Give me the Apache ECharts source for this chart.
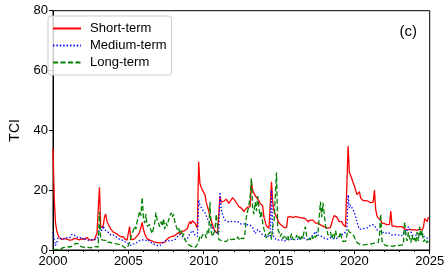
<!DOCTYPE html>
<html>
<head>
<meta charset="utf-8">
<script src="https://cdn.jsdelivr.net/npm/echarts@6/dist/echarts.min.js"></script>
<style>html,body{margin:0;padding:0;background:#fff}#c{width:448px;height:274px}</style>
</head>
<body>
<div id="c"></div>
<script>
// Monthly samples starting Jan 2000
const startYear = 2000;
const pointsPerYear = 12;
const seriesNames = ['Short-term', 'Medium-term', 'Long-term'];
const xTicks = [2000, 2005, 2010, 2015, 2020, 2025];
const yTicks = [0, 20, 40, 60, 80];

const shortTerm = [
 34, 17, 9, 6.5, 5, 4.2, 3.8, 3.5, 3.6, 3.9, 3.4, 3.6,
 3.5, 3.3, 3.8, 3.4, 3.6, 3.9, 3.5, 3.7, 3.2, 3.4, 3.6, 3.8,
 4.0, 3.5, 3.8, 4.2, 3.6, 3.4, 3.8, 3.3, 3.2, 3.5, 3.0, 5.5,
 5.5, 21, 7.5, 7.3, 8, 11, 12, 9.5, 9, 7.8, 7, 6.5,
 6, 5.8, 5.6, 5.2, 5, 4.6, 4.4, 4.2, 4.5, 3.8, 3.5, 3.3,
 3.3, 7.8, 3.6, 3.3, 3.5, 3.8, 4.2, 4.8, 5.2, 6, 7.5, 9.2,
 7, 5.5, 4.5, 3.8, 3.5, 3.3, 3.2, 3.0, 2.8, 2.6, 2.8, 2.5,
 2.6, 2.4, 2.8, 2.5, 2.3, 2.6, 3.3, 3.8, 4, 4.2, 4.5, 4.3,
 4.6, 5, 5.2, 5.4, 5.8, 6, 5.5, 6.2, 6.8, 6.5, 6, 7.2,
 8.5, 9.5, 8.8, 9.8, 9.3, 9, 8.5, 7.3, 29.5, 22.3, 21, 20,
 19.5, 18.5, 16, 14.5, 13, 11.5, 10, 8.5, 7.2, 6.3, 6, 5.6,
 6, 18, 16, 15.5, 16.3, 15.8, 17, 16.5, 15.6, 16, 16.8, 17.5,
 17, 16.5, 15.8, 15.2, 14.5, 14.8, 14, 13.5, 12.8, 13.5, 13, 14.3,
 14, 14.5, 22.8, 20, 19, 18.5, 17.5, 17, 16.5, 15.5, 15, 14.8,
 11, 9.5, 8, 7.5, 7.3, 7.8, 22.8, 16, 13, 12, 11.5, 10,
 9, 8.5, 8.3, 7.8, 7.5, 8, 7.5, 11, 11, 11.2, 11, 10.8,
 11, 11.2, 10.9, 11, 11.1, 10.8, 11, 10.7, 11.2, 10.5, 10.6, 9.5,
 9.8, 10, 9.5, 10, 9.4, 9, 8.8, 9, 8.5, 8.4, 8.2, 8,
 7.8, 7.5, 8, 7.3, 7.8, 7.6, 8.2, 10.5, 11.5, 12, 11, 11.5,
 9.5, 9, 9.5, 8.5, 8, 7.8, 7.6, 34.8, 26, 25, 23.8, 22.5,
 21.5, 20, 18.5, 18, 19.5, 17.4, 17, 16.5, 16.2, 16.5, 16, 16.3,
 16, 15.8, 16.2, 16, 20, 13.5, 11.5, 10.7, 10.2, 10, 9, 8.5,
 8.8, 8.9, 8.5, 8.8, 8.6, 13, 8, 7.8, 8, 7.8, 7.7, 8,
 7.8, 8, 7.8, 7.5, 7, 7.2, 6.8, 7, 6.8, 7, 6.7, 7,
 6.8, 7, 6.6, 6.9, 7, 6.8, 6.7, 7.5, 10.5, 10.7, 9.5, 11
];

const mediumTerm = [
 6, 3.5, 1.5, 2.5, 4, 4.5, 3.8, 4, 3.5, 3.8, 4.2, 3.6,
 4, 3.8, 4.3, 5.2, 5.5, 5, 4.6, 4.2, 4, 4.4, 3.9, 3.6,
 3.8, 4.1, 3.5, 3.2, 3.6, 3.3, 3.1, 3.5, 3.0, 3.4, 3.2, 3.8,
 4.5, 7.5, 7, 6.5, 8, 7, 6.5, 6, 5.5, 5.8, 5, 5.3,
 5, 4.6, 4.5, 4, 3.8, 3.5, 3.4, 3, 3.2, 2.8, 2.5, 2.6,
 2.2, 1.8, 1.5, 1.6, 2, 2.4, 2.2, 2.6, 3, 2.8, 3.2, 3.5,
 3.4, 3, 3.2, 2.8, 3.4, 2.6, 3, 2.4, 2.2, 1.8, 1.7, 1.5,
 1.6, 1.4, 1.8, 2.2, 2.6, 3, 2.8, 3.2, 3.5, 3, 3.4, 3.2,
 3.6, 3.4, 4, 4.4, 4.8, 5.2, 5, 4.6, 4, 3.6, 3.3, 3.8,
 4.5, 5.5, 6, 6.5, 5.8, 5, 4.8, 4.5, 16.7, 15, 14.5, 13.5,
 13, 12.5, 11.5, 10.5, 9.5, 9, 8.5, 7.5, 6.8, 6.2, 5.8, 5.5,
 5.6, 19.3, 13.5, 12, 10.8, 10, 9.8, 9.5, 10, 9.4, 9.8, 9.6,
 9.8, 9.5, 9.2, 9.5, 9, 8.8, 9.2, 8.6, 8.4, 8.8, 8.2, 8.4,
 8, 8.3, 7.8, 7.5, 6.5, 5.5, 6, 6.8, 7.2, 6, 5.5, 5,
 4.8, 4.5, 4.2, 4.6, 4, 4.4, 20, 6, 4, 3.8, 3.5, 3.6,
 3.3, 3.8, 3.4, 3.6, 3, 3.5, 3.2, 3.6, 3.8, 3.4, 3.6, 3.2,
 3.5, 3.8, 3.4, 3.6, 3.9, 3.3, 3.7, 3.5, 4, 3.6, 3.4, 3.8,
 3.6, 4.2, 4.5, 5, 5.5, 6.2, 5.8, 5, 4.6, 4.8, 4.4, 4.2,
 4, 3.8, 4.2, 3.6, 3.8, 4.1, 3.5, 3.8, 4, 3.6, 4, 4.2,
 4.6, 5, 4.8, 5.2, 5.5, 6, 6.7, 18.4, 14, 15, 14.5, 13.4,
 12.5, 11, 10.7, 8, 7, 6.8, 7, 6.8, 7.2, 7, 7.3, 7.6,
 8, 8.2, 8.5, 8.4, 8.2, 7.5, 6.8, 6.5, 6.2, 6, 6.2, 5.8,
 5.5, 5.4, 5.8, 5.2, 5.6, 5.3, 5, 5.4, 5.2, 5.6, 5, 5.3,
 5, 5.2, 4.8, 5.5, 6.7, 5.5, 5.8, 7.8, 7.5, 6.2, 5, 5.2,
 4.8, 5.2, 5, 4.6, 5.4, 4.8, 5.5, 5, 4.2, 3.8, 4, 3.5
];

const longTerm = [
 0.3, 0.2, 0.1, 0.3, 0.2, 0.4, 0.3, 0.5, 0.8, 1, 0.9, 1.2,
 1.1, 1.3, 1.0, 1.2, 1.6, 2.0, 2.2, 1.8, 2.1, 1.5, 1.2, 1.4,
 1.0, 1.2, 0.8, 1.1, 0.9, 1.3, 0.7, 1.0, 1.2, 0.8, 1.1, 0.9,
 1.0, 12.8, 3.5, 3, 3.3, 2.8, 3.2, 2.5, 2.2, 2.6, 2, 2.3,
 1.8, 2.2, 1.6, 2, 1.5, 1.8, 1.2, 1.5, 1, 0.8, 1.1, 0.6,
 0.8, 2.5, 4.5, 5, 6.5, 8, 7, 9.5, 11, 13, 11.5, 17.6,
 11, 9, 12, 8, 7.5, 8.5, 6.5, 5.5, 6, 9, 12.5, 10,
 9, 7.8, 9.5, 8, 10.5, 7, 9, 8, 10, 11, 12.5, 11,
 12, 9.5, 8, 6.8, 7.5, 5.5, 6.5, 4.5, 5.5, 3.5, 2.8, 2.2,
 1.8, 1.5, 1.3, 1, 0.8, 0.9, 1.1, 1.5, 3, 4.5, 3.8, 5,
 4.5, 5.5, 4, 6.5, 5.5, 16, 6, 4.5, 5.5, 6.5, 12, 8,
 3.5, 4, 3.2, 3.8, 3, 2.6, 2.8, 3.3, 3.8, 4.2, 3.5, 4,
 3.6, 4.2, 3.5, 4.4, 3.8, 3.2, 4, 4.5, 3.8, 6, 11, 13,
 15, 18, 24, 14, 12, 16, 13, 18, 14, 11, 13, 9,
 7, 5.5, 4, 5, 4.5, 6, 3.5, 8, 9.5, 10, 25.9, 7,
 6, 4.5, 5.5, 3.8, 4.2, 5, 3.5, 4.8, 3.2, 4, 5.5, 3.6,
 4.2, 3.4, 5, 3.8, 4.5, 3.2, 4.6, 3.8, 6.5, 7.8, 4.5, 3.6,
 4, 3.5, 4.8, 3.8, 5, 4.2, 4.8, 5.5, 6, 16.2, 11, 15.8,
 12, 8, 7, 5, 4.5, 6, 3.8, 5.2, 4, 6.5, 4.4, 5,
 4.5, 6, 3.6, 2.8, 2.5, 3, 2.8, 6.7, 6, 6.5, 5.5, 5.8,
 4.4, 3, 2.8, 2.2, 2, 1.8, 2, 1.7, 2.1, 1.8, 2, 1.9,
 1.7, 2, 1.8, 2.2, 1.9, 2.3, 2, 2.5, 5, 12, 3, 2,
 1.8, 1.5, 1.7, 1.4, 1.6, 1.3, 1.5, 1.2, 1.4, 1.6, 1.3, 1.5,
 1.4, 1.6, 1.3, 1.8, 9.5, 5, 3, 6, 4, 2.5, 5, 3,
 4, 2.5, 6, 3, 7.8, 4.5, 6.5, 2.8, 3.5, 2.2, 3, 2.5
];

const time = shortTerm.map((_, i) => startYear + i / pointsPerYear);
const pair = arr => arr.map((v, i) => [time[i], v]);

const FONT = 'Liberation Sans, Arial, Helvetica, sans-serif';
const chart = echarts.init(document.getElementById('c'), null, {renderer: 'canvas'});
chart.setOption({
  animation: false,
  backgroundColor: '#fff',
  textStyle: {fontFamily: FONT},
  title: {
    text: '(c)', right: 26, top: 19,
    textStyle: {fontSize: 15, fontWeight: 'normal', color: '#000', fontFamily: FONT}
  },
  legend: {
    orient: 'vertical', left: 48, top: 16,
    padding: [6, 5, 6, 4],
    itemWidth: 28, itemHeight: 14, itemGap: 4,
    backgroundColor: 'rgba(255,255,255,0.8)',
    borderColor: '#cccccc', borderWidth: 1, borderRadius: 3,
    itemStyle: {opacity: 0, color: 'transparent', borderWidth: 0},
    textStyle: {fontSize: 13, color: '#000', fontFamily: FONT, padding: [0, 0, 0, 4]},
    data: seriesNames
  },
  grid: {
    left: 42.7, right: 18.3, top: 10.7, bottom: 24,
    show: true, borderColor: '#000', borderWidth: 1, backgroundColor: 'transparent'
  },
  xAxis: {
    type: 'value', min: xTicks[0], max: xTicks[xTicks.length - 1], interval: 5,
    axisLine: {show: true, lineStyle: {color: '#000', width: 1}},
    axisTick: {show: true, length: 4, lineStyle: {color: '#000'}},
    minorTick: {show: true, splitNumber: 5, length: 2, lineStyle: {color: '#000'}},
    splitLine: {show: false},
    axisLabel: {fontSize: 13, color: '#000', margin: 5, fontFamily: FONT, formatter: v => String(v)}
  },
  yAxis: {
    type: 'value', min: yTicks[0], max: yTicks[yTicks.length - 1], interval: 20,
    name: 'TCI', nameLocation: 'middle', nameGap: 31,
    nameTextStyle: {fontSize: 14, color: '#000', fontFamily: FONT},
    axisLine: {show: true, lineStyle: {color: '#000', width: 1}},
    axisTick: {show: true, length: 4, lineStyle: {color: '#000'}},
    splitLine: {show: false},
    axisLabel: {fontSize: 13, color: '#000', margin: 5, fontFamily: FONT, formatter: v => String(v)}
  },
  series: [
    {name: seriesNames[0], type: 'line', data: pair(shortTerm), symbol: 'none', silent: true,
     lineStyle: {color: '#ff0000', width: 1.3, type: 'solid'}, itemStyle: {color: '#ff0000'}, z: 2},
    {name: seriesNames[1], type: 'line', data: pair(mediumTerm), symbol: 'none', silent: true,
     lineStyle: {color: '#0000ff', width: 1.3, type: [1.4, 2]}, itemStyle: {color: '#0000ff'}, z: 3},
    {name: seriesNames[2], type: 'line', data: pair(longTerm), symbol: 'none', silent: true,
     lineStyle: {color: '#008000', width: 1.3, type: [5, 2.5]}, itemStyle: {color: '#008000'}, z: 4}
  ]
});
</script>
</body>
</html>
